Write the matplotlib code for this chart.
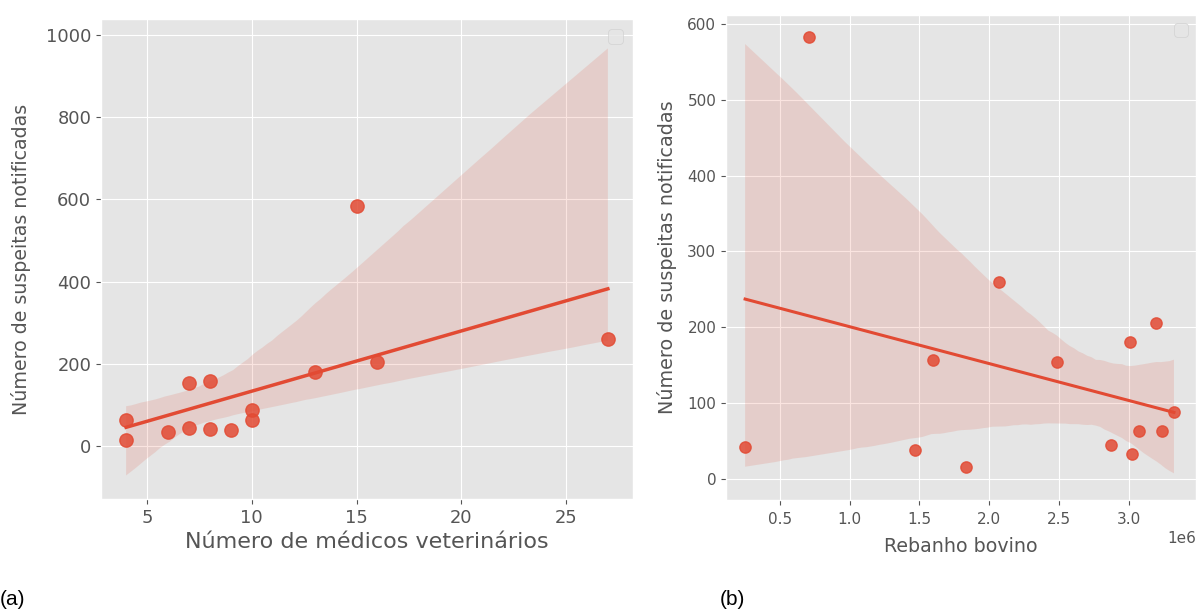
import numpy as np
import pandas as pd
import seaborn as sns
from matplotlib import pyplot as plt

plt.style.use('ggplot')

# Notified suspicions per region, with vets and cattle herd
suspeitas = [63, 15, 33, 154, 44, 157, 42, 38, 88, 63, 181, 583, 205, 260]
veterinarios = [4, 4, 6, 7, 7, 8, 8, 9, 10, 10, 13, 15, 16, 27]
rebanho = [3238000, 1833000, 3023000, 2486000, 2873000, 1597000, 250000,
           1468000, 3324000, 3074000, 3010000, 708000, 3195000, 2070000]

df = pd.DataFrame({
    'suspeitas': suspeitas,
    'veterinarios': veterinarios,
    'rebanho': rebanho,
})

fig = plt.figure(figsize=(11.97, 6.12), dpi=100)
ax1 = fig.add_axes([101 / 1197, 1 - 499 / 612, 532 / 1197, 480 / 612])
ax2 = fig.add_axes([726 / 1197, 1 - 500 / 612, 470 / 1197, 485 / 612])

red = '#E24A33'
panels = [
    dict(ax=ax1, col='veterinarios', xlabel='Número de médicos veterinários',
         tsize=12.9, xsize=16, ysize=13.7, msize=92, lw=2.5,
         xlim=(2.8, 28.2), ylim=(-129, 1039), seed=0, xpad=4, ylab_x=-0.132, leg=14),
    dict(ax=ax2, col='rebanho', xlabel='Rebanho bovino',
         tsize=11, xsize=13.7, ysize=13.8, msize=66, lw=2.2,
         xlim=(113000, 3482000), ylim=(-28, 612), seed=3, xpad=7.5, ylab_x=-0.105, leg=12),
]
for p in panels:
    ax = p['ax']
    sns.regplot(data=df, x=p['col'], y='suspeitas', ax=ax, color=red, seed=p['seed'],
                scatter_kws={'s': p['msize'], 'alpha': 0.85},
                line_kws={'lw': p['lw']})
    ax.set_xlim(*p['xlim'])
    ax.set_ylim(*p['ylim'])
    ax.set_xlabel(p['xlabel'], fontsize=p['xsize'], color='#555555', labelpad=p['xpad'])
    ax.set_ylabel('Número de suspeitas notificadas', fontsize=p['ysize'], color='#555555')
    ax.yaxis.set_label_coords(p['ylab_x'], 0.5)
    ax.tick_params(labelsize=p['tsize'], colors='#555555')
    ax.legend(loc='upper right', fontsize=p['leg'])

ax2.tick_params(axis='x', pad=5)
ax2.xaxis.get_offset_text().set_fontsize(11)

fig.text(0.0, 0.012, '(a)', fontsize=15, family='Liberation Sans')
fig.text(720 / 1197, 0.012, '(b)', fontsize=15, family='Liberation Sans')

fig.savefig('out.png', dpi=100)
